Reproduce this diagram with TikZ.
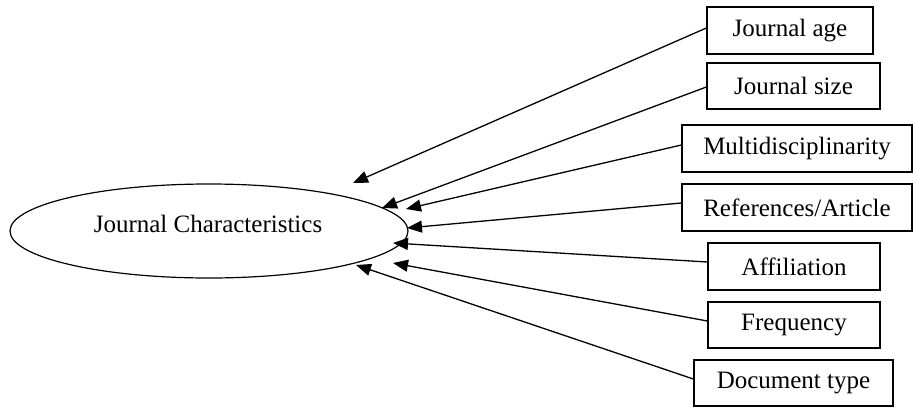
\documentclass[tikz,border=0pt]{standalone}
\usepackage{fontspec}
\setmainfont{Liberation Serif}
\usetikzlibrary{arrows.meta,shapes.geometric}
\begin{document}
\begin{tikzpicture}[x=1pt,y=-1pt,
  box/.style={draw,line width=1.3pt,inner sep=0pt,font=\fontsize{25}{30}\selectfont},
  oval/.style={draw,ellipse,line width=1.2pt,inner sep=0pt,minimum width=398pt,minimum height=94pt,font=\fontsize{25}{30}\selectfont},
  link/.style={line width=1.3pt,-{Triangle[length=15pt,width=12pt]}}]
\useasboundingbox (0,0) rectangle (913,407);
\node[oval] (jc) at (209,231) {};
\node[font=\fontsize{25}{30}\selectfont] (jct) at (208,224) {Journal Characteristics};
\node[box,minimum width=166pt,minimum height=47pt] (age) at (790,30.5) {Journal age};
\node[box,minimum width=173pt,minimum height=46pt] (size) at (793.5,86) {Journal size};
\node[box,minimum width=230pt,minimum height=47pt] (multi) at (797,148.5) {Multidisciplinarity};
\node[box,minimum width=230pt,minimum height=47pt] (refs) at (797,207.5) {References/Article};
\node[box,minimum width=172pt,minimum height=47pt] (aff) at (794,266.5) {Affiliation};
\node[box,minimum width=172pt,minimum height=46pt] (freq) at (794,325) {Frequency};
\node[box,minimum width=199pt,minimum height=46pt] (doc) at (793.5,383) {Document type};
\coordinate (t1) at (353,183);
\coordinate (t2) at (382,208);
\coordinate (t3) at (406,209);
\coordinate (t4) at (407,228);
\coordinate (t5) at (393,243);
\coordinate (t6) at (393,263);
\coordinate (t7) at (356,265);
\draw[link] (age.west) ++(0,-2.5) -- (t1);
\draw[link] (size.west) ++(0,1) -- (t2);
\draw[link] (multi.west) ++(0,-3.5) -- (t3);
\draw[link] (refs.west) ++(0,-4.5) -- (t4);
\draw[link] (aff.west) ++(0,-4.5) -- (t5);
\draw[link] (freq.west) ++(0,-4) -- (t6);
\draw[link] (doc.west) ++(0,-4) -- (t7);
\end{tikzpicture}
\end{document}
